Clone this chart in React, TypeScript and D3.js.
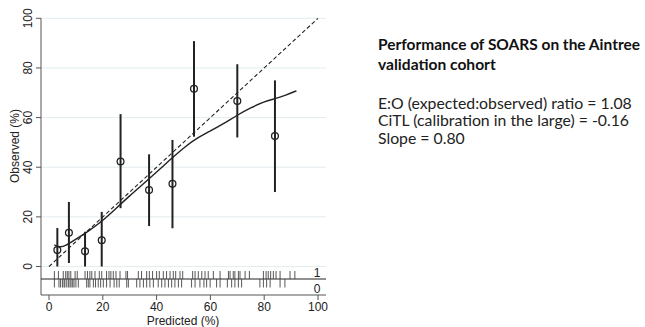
import React from "react";
import * as d3 from "d3";

const yTicks = [0, 20, 40, 60, 80, 100];
const xTicks = [0, 20, 40, 60, 80, 100];

// grouped observed points: predicted, observed, lower CI, upper CI
const groupPred = [3.1, 7.4, 13.4, 19.6, 26.6, 37.2, 45.9, 53.9, 70.0, 84.0];
const groupObs = [6.6, 13.6, 6.1, 10.6, 42.3, 30.8, 33.3, 71.6, 66.7, 52.6];
const groupLo = [0, 1.4, 0, 0, 23.5, 16.3, 15.4, 52.3, 52.0, 30.0];
const groupHi = [15.5, 26.0, 14.0, 22.0, 61.4, 45.2, 51.0, 90.8, 81.5, 75.0];

// lowess calibration curve
const lowessX = [2, 4, 6, 10, 15, 20, 25, 30, 35, 40, 45, 50, 55, 60, 65, 70, 75, 80, 84, 88, 92];
const lowessY = [8.7, 7.7, 8.2, 11, 14.5, 18.5, 23.5, 28.5, 33.2, 38, 43, 47.8, 51.8, 54.6, 57.6, 61, 64, 66.4, 67.6, 69, 70.8];

// rug: predicted values of events (1) and non-events (0)
const rugEvents = [2.0, 3.5, 5.3, 6.2, 6.8, 7.4, 8.1, 9.7, 10.5, 13.4, 14.3, 15.2, 15.9, 17.1, 18.7, 19.6, 21.4, 22.3, 23.0, 23.9, 24.9, 26.4, 28.6, 29.2, 33.2, 34.4, 36.3, 37.3, 38.5, 40.0, 41.0, 42.5, 43.7, 45.0, 46.2, 47.1, 48.7, 49.7, 53.4, 54.3, 55.5, 56.8, 58.0, 59.2, 61.1, 63.6, 66.7, 67.3, 68.5, 69.1, 70.4, 71.0, 72.9, 74.5, 79.7, 80.7, 81.5, 82.4, 83.4, 84.4, 85.9, 89.6, 91.4];
const rugNonEvents = [2.0, 3.7, 4.3, 5.0, 5.6, 5.9, 6.6, 7.2, 7.8, 8.2, 8.8, 9.3, 10.0, 10.9, 14.0, 14.6, 15.2, 16.5, 17.3, 18.3, 19.2, 20.2, 21.4, 22.7, 24.2, 25.2, 26.1, 28.9, 29.5, 32.6, 33.8, 35.1, 36.3, 37.5, 38.8, 40.6, 41.9, 43.1, 44.4, 45.6, 46.8, 48.1, 49.3, 53.0, 54.3, 56.1, 57.6, 58.6, 59.9, 62.3, 63.6, 66.3, 67.9, 69.1, 70.4, 71.6, 78.4, 79.7, 80.9, 82.2, 85.9, 87.7];

const titleLines = ["Performance of SOARS on the Aintree", "validation cohort"];
const statLines = [
  "E:O (expected:observed) ratio = 1.08",
  "CiTL (calibration in the large) = -0.16",
  "Slope = 0.80",
];

export default function App() {
  const W = 645, H = 327;
  const x = d3.scaleLinear().domain([0, 100]).range([49, 318]);
  const y = d3.scaleLinear().domain([0, 100]).range([266.5, 18.3]);
  const axisX = 41, axisRight = 326, axisBottom = 295;
  const rugY = 279;
  const ink = "#222";
  const sans = "'Liberation Sans', Arial, sans-serif";
  const txt = "Lato, 'Open Sans', sans-serif";

  const lowess = d3.line<number>().x((_, i) => x(lowessX[i])).y((d) => y(d)).curve(d3.curveBasis)(lowessY) || "";

  return (
    <svg width={W} height={H} style={{ position: "absolute", left: 0, top: 0, background: "#fff" }}>
      <rect x={0} y={0} width={W} height={H} fill="#fff" />
      {/* gridlines */}
      {yTicks.map((t) => (
        <line key={"g" + t} x1={axisX} x2={axisRight} y1={y(t)} y2={y(t)} stroke="#e3ecef" strokeWidth={1} />
      ))}
      {/* axes */}
      <line x1={axisX} x2={axisX} y1={y(100)} y2={axisBottom} stroke="#555" strokeWidth={1} />
      <line x1={axisX} x2={axisRight} y1={axisBottom} y2={axisBottom} stroke="#555" strokeWidth={1} />
      {yTicks.map((t) => (
        <g key={"yt" + t}>
          <line x1={axisX - 5} x2={axisX} y1={y(t)} y2={y(t)} stroke="#555" />
          <text transform={`translate(${axisX - 9},${y(t)}) rotate(-90)`} textAnchor="middle" fontFamily={sans} fontSize={12} fill={ink}>
            {t}
          </text>
        </g>
      ))}
      {xTicks.map((t) => (
        <g key={"xt" + t}>
          <line x1={x(t)} x2={x(t)} y1={axisBottom} y2={axisBottom + 5} stroke="#555" />
          <text x={x(t)} y={axisBottom + 16} textAnchor="middle" fontFamily={sans} fontSize={12} fill={ink}>
            {t}
          </text>
        </g>
      ))}
      <text x={183} y={325} textAnchor="middle" fontFamily={sans} fontSize={12} fill={ink}>Predicted (%)</text>
      <text transform={`translate(19,146) rotate(-90)`} textAnchor="middle" fontFamily={sans} fontSize={12} fill={ink}>Observed (%)</text>

      {/* rug */}
      <line x1={axisX} x2={axisRight} y1={rugY} y2={rugY} stroke={ink} strokeWidth={1} />
      {rugEvents.map((v, i) => (
        <line key={"r1" + i} x1={x(v)} x2={x(v)} y1={rugY - 8} y2={rugY} stroke="#444" strokeWidth={0.9} />
      ))}
      {rugNonEvents.map((v, i) => (
        <line key={"r0" + i} x1={x(v)} x2={x(v)} y1={rugY} y2={rugY + 8.5} stroke="#444" strokeWidth={0.9} />
      ))}
      <text x={317} y={276.5} textAnchor="middle" fontFamily={sans} fontSize={12} fill={ink}>1</text>
      <text x={317} y={292.5} textAnchor="middle" fontFamily={sans} fontSize={12} fill={ink}>0</text>

      {/* reference line */}
      <line x1={x(0)} y1={y(0)} x2={x(100)} y2={y(100)} stroke={ink} strokeWidth={1.1} strokeDasharray="4,2.5" />
      {/* lowess */}
      <path d={lowess} fill="none" stroke={ink} strokeWidth={1.4} />
      {/* error bars + points */}
      {groupPred.map((p, i) => (
        <g key={"pt" + i}>
          <line x1={x(p)} x2={x(p)} y1={y(groupLo[i])} y2={y(groupHi[i])} stroke={ink} strokeWidth={2} />
          <circle cx={x(p)} cy={y(groupObs[i])} r={3.4} fill="none" stroke={ink} strokeWidth={1.3} />
        </g>
      ))}

      {/* annotation */}
      {titleLines.map((l, i) => (
        <text key={"t" + i} x={378} y={50 + i * 19.5} fontFamily={txt} fontWeight="bold" fontSize={15.6} fill="#111"
          {...(i === 0 ? { textLength: 262, lengthAdjust: "spacingAndGlyphs" } : {})}>{l}</text>
      ))}
      {statLines.map((l, i) => (
        <text key={"s" + i} x={378} y={108.5 + i * 17.8} fontFamily={txt} fontSize={15.8} fill="#222">{l}</text>
      ))}
    </svg>
  );
}
